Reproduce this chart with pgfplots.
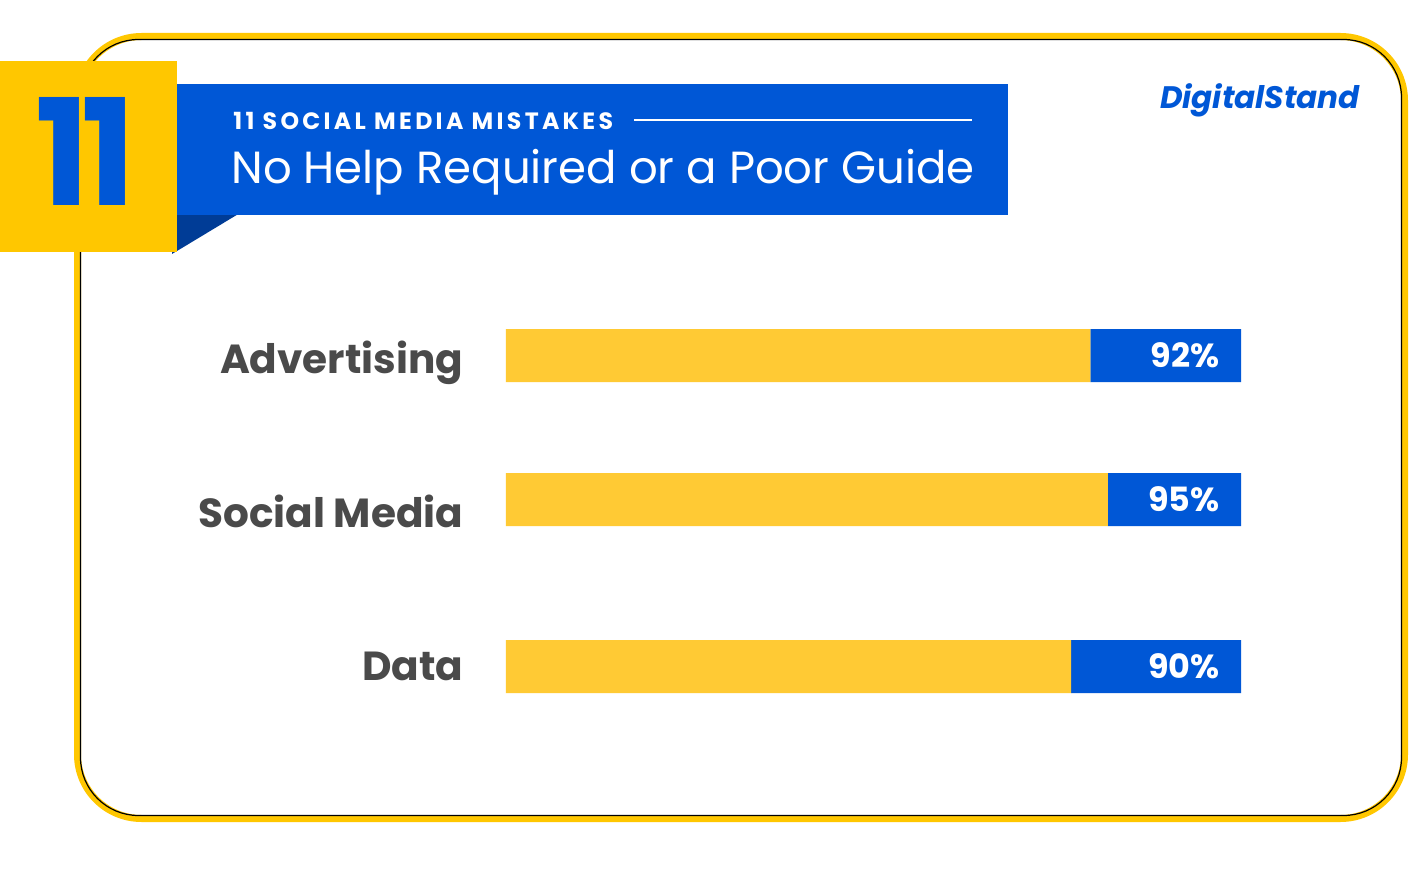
\documentclass[border=0pt]{standalone}
\usepackage{fontspec}
\setmainfont{Poppins}
\newfontfamily\spaced{Poppins}[LetterSpace=14]
\newfontfamily\tight{Poppins}[LetterSpace=-6]
\usepackage{pgfplots}
\pgfplotsset{compat=1.18}
\definecolor{dsblue}{RGB}{0,87,214}
\definecolor{dsdark}{RGB}{0,60,150}
\definecolor{dsyellow}{RGB}{255,199,0}
\definecolor{baryellow}{RGB}{255,202,52}
\definecolor{labelgray}{RGB}{74,74,74}
\tikzset{pct/.style={anchor=east,xshift=-10.5pt,inner sep=0,text=white,
    font=\bfseries\fontsize{16.7}{16.7}\selectfont}}

\begin{document}
\begin{tikzpicture}
\begin{scope}[x=0.5pt,y=-0.5pt]
% canvas
\path[fill=white,use as bounding box] (0,0) rectangle (1410,888);
% frame
\draw[dsyellow,line width=3.5pt,rounded corners=32pt] (77.5,36.5) rectangle (1404.5,818.5);
\draw[black,line width=0.6pt,rounded corners=29pt] (80.5,39.5) rectangle (1401.5,815.5);
% number box and banner
\fill[dsdark] (177,213) -- (240,213) -- (172,254) -- cycle;
\fill[dsblue] (177,84) rectangle (1008,215);
\fill[dsyellow] (0,61) rectangle (177,252);
\node[anchor=center,inner sep=0,text=dsblue] at (86,151)
  {\resizebox{50pt}{54pt}{\tight\bfseries 11}};
\node[anchor=base west,inner sep=0,text=white,font=\spaced\bfseries\fontsize{11.8}{11.8}\selectfont] at (233,130)
  {11 SOCIAL MEDIA MISTAKES};
\draw[white,line width=1pt] (634,120) -- (972,120);
\node[anchor=base west,inner sep=0,text=white,font=\fontsize{22.5}{22.5}\selectfont] at (231,184)
  {No Help Required or a Poor Guide};
% logo
\node[anchor=center,inner sep=0,text=dsblue] at (1260,100)
  {\resizebox{100pt}{!}{\bfseries\itshape DigitalStand}};
\end{scope}

\begin{axis}[
  at={(253pt,-150pt)}, anchor=north west,
  scale only axis, width=367.5pt, height=210pt,
  xmin=0, xmax=100, ymin=300, ymax=720,
  y dir=reverse,
  xbar stacked, bar width=26.5pt,
  axis line style={draw=none},
  major tick length=0pt,
  xtick=\empty,
  ytick={373,527,680},
  yticklabels={Advertising,Social Media,Data},
  yticklabel style={anchor=base east,font=\bfseries\fontsize{20.3}{20.3}\selectfont,text=labelgray,xshift=-17.8pt},
  clip=false,
]
\addplot[fill=baryellow,draw=none] coordinates {
  (79.5,355.5) (81.9,499.5) (76.9,666.5)
};
\addplot[fill=dsblue,draw=none] coordinates {
  (20.5,355.5) (18.1,499.5) (23.1,666.5)
};
\coordinate (p1) at (axis cs:100,355.5);
\coordinate (p2) at (axis cs:100,499.5);
\coordinate (p3) at (axis cs:100,666.5);
\end{axis}
\node[pct] at (p1) {92\%};
\node[pct] at (p2) {95\%};
\node[pct] at (p3) {90\%};
\end{tikzpicture}
\end{document}
